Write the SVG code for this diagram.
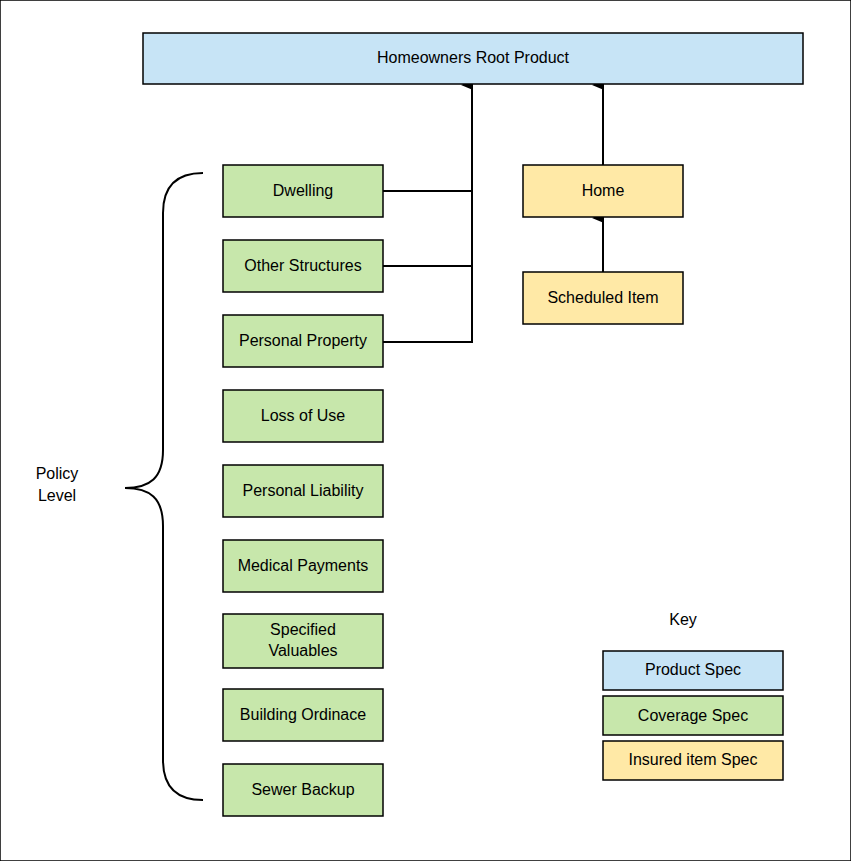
<svg xmlns="http://www.w3.org/2000/svg" width="851" height="861" viewBox="0 0 851 861">
<style>
text{font-family:"Liberation Sans",Arial,sans-serif;font-size:16px;fill:#000;text-anchor:middle;dominant-baseline:central}
rect{stroke:#000;stroke-width:1.5}
.p{fill:#c7e4f6}.c{fill:#c7e7ab}.i{fill:#ffe9a6}
.l{fill:none;stroke:#000;stroke-width:2}
</style>
<defs><marker id="a" markerWidth="10" markerHeight="12" refX="5" refY="11" orient="auto" markerUnits="userSpaceOnUse"><path d="M0,12 L5,0 L10,12 Z" fill="#000"/></marker></defs>
<rect width="851" height="861" fill="#fff" stroke="none"/>
<g id="connectors">
<path class="l" d="M383,191 H472 M383,266 H472 M383,342 H472 V85" marker-end="url(#a)"/>
<path class="l" d="M603,165 V85" marker-end="url(#a)"/>
<path class="l" d="M603,272 V218" marker-end="url(#a)"/>
<path class="l" d="M203,173 C178,173 163,185 163,213 V450 C163,478 150,488 125,488 C150,488 163,498 163,526 V760 C163,788 178,800 203,800"/>
</g>
<g id="root"><rect class="p" x="143" y="33" width="660" height="51"/><text x="473" y="57">Homeowners Root Product</text></g>
<g id="dwelling"><rect class="c" x="223" y="165" width="160" height="52"/><text x="303" y="190">Dwelling</text></g>
<g id="other"><rect class="c" x="223" y="240" width="160" height="52"/><text x="303" y="265">Other Structures</text></g>
<g id="personal-property"><rect class="c" x="223" y="315" width="160" height="52"/><text x="303" y="340">Personal Property</text></g>
<g id="loss"><rect class="c" x="223" y="390" width="160" height="52"/><text x="303" y="415">Loss of Use</text></g>
<g id="liability"><rect class="c" x="223" y="465" width="160" height="52"/><text x="303" y="490">Personal Liability</text></g>
<g id="medical"><rect class="c" x="223" y="540" width="160" height="52"/><text x="303" y="565">Medical Payments</text></g>
<g id="valuables"><rect class="c" x="223" y="614" width="160" height="54"/><text x="303" y="629">Specified</text><text x="303" y="650">Valuables</text></g>
<g id="ordinance"><rect class="c" x="223" y="689" width="160" height="52"/><text x="303" y="714">Building Ordinace</text></g>
<g id="sewer"><rect class="c" x="223" y="764" width="160" height="52"/><text x="303" y="789">Sewer Backup</text></g>
<g id="home"><rect class="i" x="523" y="165" width="160" height="52"/><text x="603" y="190">Home</text></g>
<g id="scheduled"><rect class="i" x="523" y="272" width="160" height="52"/><text x="603" y="297">Scheduled Item</text></g>
<g id="policy"><text x="57" y="473">Policy</text><text x="57" y="495">Level</text></g>
<g id="key"><text x="683" y="619">Key</text>
<rect class="p" x="603" y="651" width="180" height="39"/><text x="693" y="669">Product Spec</text>
<rect class="c" x="603" y="696" width="180" height="39"/><text x="693" y="715">Coverage Spec</text>
<rect class="i" x="603" y="741" width="180" height="39"/><text x="693" y="759">Insured item Spec</text></g>
</svg>
